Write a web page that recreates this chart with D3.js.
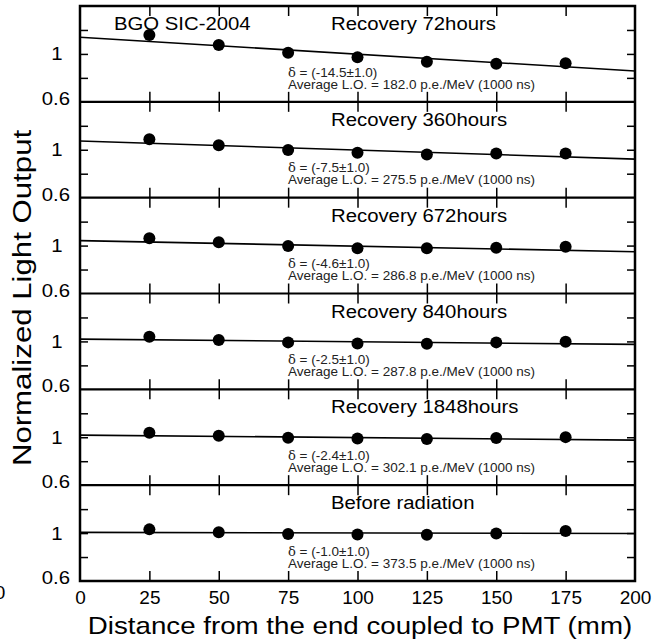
<!DOCTYPE html>
<html>
<head>
<meta charset="utf-8">
<script src="https://cdn.jsdelivr.net/npm/d3@7"></script>
<style>
body { margin: 0; background: #fff; }
text { font-family: "Liberation Sans", Arial, sans-serif; fill: #000; }
</style>
</head>
<body>
<div id="chart"></div>
<script>
// values
var distances = [25, 50, 75, 100, 125, 150, 175];
var panelLabels = ["Recovery 72hours", "Recovery 360hours", "Recovery 672hours",
                   "Recovery 840hours", "Recovery 1848hours", "Before radiation"];
var recovery72   = [1.158, 1.074, 1.010, 0.972, 0.935, 0.918, 0.922];
var recovery360  = [1.088, 1.037, 0.997, 0.975, 0.961, 0.969, 0.969];
var recovery672  = [1.061, 1.028, 0.997, 0.977, 0.977, 0.982, 0.991];
var recovery840  = [1.039, 1.011, 0.992, 0.983, 0.981, 0.992, 0.997];
var recovery1848 = [1.038, 1.013, 0.996, 0.990, 0.985, 0.993, 1.001];
var beforeRad    = [1.031, 1.006, 0.992, 0.989, 0.986, 0.997, 1.017];
var series = [recovery72, recovery360, recovery672, recovery840, recovery1848, beforeRad];

// fitted line, value at 0 mm and at 200 mm
var fitAt0   = [1.139, 1.073, 1.041, 1.019, 1.018, 1.006];
var fitAt200 = [0.857, 0.922, 0.949, 0.975, 0.976, 0.996];

var deltas = ["(-14.5\u00b11.0)", "(-7.5\u00b11.0)", "(-4.6\u00b11.0)",
              "(-2.5\u00b11.0)", "(-2.4\u00b11.0)", "(-1.0\u00b11.0)"];
var averageLO = ["182.0", "275.5", "286.8", "287.8", "302.1", "373.5"];

var xTicks = [0, 25, 50, 75, 100, 125, 150, 175, 200];
var yInnerTicks = [0.8, 1, 1.2];
var yLabels = [0.6, 1];

var w = 652, h = 643;
var mLeft = 80, mRight = 635, mTop = 6, mBottom = 581;
var panelH = (mBottom - mTop) / series.length;

var svg = d3.select("#chart").append("svg")
    .attr("width", w)
    .attr("height", h);

var x = d3.scaleLinear().domain([0, 200]).range([mLeft, mRight]);

// text stretched horizontally like the original
function stretched(g, str, tx, ty, sx, size, anchor) {
    return g.append("text")
        .attr("transform", "translate(" + tx + "," + ty + ") scale(" + sx + ",1)")
        .attr("text-anchor", anchor || "start")
        .style("font-size", size + "px")
        .text(str);
}

series.forEach(function(vals, i) {
    var y0 = mTop + i * panelH;
    var y = d3.scaleLinear().domain([0.6, 1.4]).range([y0 + panelH, y0]);
    var g = svg.append("g");

    // ticks
    g.append("g").attr("transform", "translate(0," + y(0.6) + ")")
        .call(d3.axisBottom(x).tickValues(distances).tickSize(-10).tickFormat(""));
    g.append("g").attr("transform", "translate(0," + y(1.4) + ")")
        .call(d3.axisTop(x).tickValues(distances).tickSize(-10).tickFormat(""));
    g.append("g").attr("transform", "translate(" + mLeft + ",0)")
        .call(d3.axisLeft(y).tickValues(yInnerTicks).tickSize(-8).tickFormat(""));
    g.append("g").attr("transform", "translate(" + mRight + ",0)")
        .call(d3.axisRight(y).tickValues(yInnerTicks).tickSize(-8).tickFormat(""));
    g.selectAll(".domain").remove();
    g.selectAll(".tick line").attr("stroke", "#000").attr("stroke-width", 1.5);

    // separator / bottom line of the panel
    g.append("line")
        .attr("x1", mLeft).attr("x2", mRight)
        .attr("y1", y(0.6)).attr("y2", y(0.6))
        .attr("stroke", "#000").attr("stroke-width", 2.2);

    // y labels
    yLabels.forEach(function(v) {
        if (v === 0.6) {
            stretched(g, "0.6", 70, y(v) + 3, 1.1, 18.5, "end");
        } else {
            stretched(g, String(v), 57, y(v) + 6.5, 1.1, 18.5, "middle");
        }
    });

    // fit line
    g.append("line")
        .attr("x1", x(0)).attr("y1", y(fitAt0[i]))
        .attr("x2", x(200)).attr("y2", y(fitAt200[i]))
        .attr("stroke", "#000").attr("stroke-width", 1.6);

    // points
    g.selectAll(".dot")
        .data(vals)
        .enter().append("circle")
        .attr("class", "dot")
        .attr("cx", function(d, j) { return x(distances[j]); })
        .attr("cy", function(d) { return y(d); })
        .attr("r", 6)
        .attr("fill", "#000");

    // titles
    stretched(g, panelLabels[i], 331, y0 + 24, 1.13, 18);
    if (i === 0) {
        stretched(g, "BGO SIC-2004", 114, y0 + 24, 1.13, 18);
    }

    // annotation
    var t1 = g.append("text")
        .attr("x", 288).attr("y", y0 + 70.5)
        .style("font-size", "13.5px")
        .style("fill", "#222");
    t1.append("tspan").style("font-family", "'DejaVu Serif', 'Liberation Serif', serif")
        .style("font-size", "13px").text("\u03b4");
    t1.append("tspan").text(" = " + deltas[i]);
    g.append("text")
        .attr("x", 288).attr("y", y0 + 82.5)
        .style("font-size", "13.5px")
        .style("fill", "#222")
        .text("Average L.O. = " + averageLO[i] + " p.e./MeV (1000 ns)");
});

// outer frame
svg.append("rect")
    .attr("x", mLeft).attr("y", mTop)
    .attr("width", mRight - mLeft).attr("height", mBottom - mTop)
    .attr("fill", "none").attr("stroke", "#000").attr("stroke-width", 2.5);

// x axis labels
var xAxis = svg.append("g").attr("transform", "translate(0," + mBottom + ")")
    .call(d3.axisBottom(x).tickValues(xTicks).tickSize(0).tickPadding(10)
        .tickFormat(d3.format("d")));
xAxis.select(".domain").remove();
xAxis.attr("font-size", null).attr("font-family", null);
xAxis.selectAll("text")
    .style("font-size", "19px")
    .attr("fill", "#000");

stretched(svg, "Distance from the end coupled to PMT (mm)", 360, 634, 1.155, 24, "middle");

svg.append("text")
    .attr("transform", "translate(31,298) rotate(-90) scale(1.2,1)")
    .attr("text-anchor", "middle")
    .style("font-size", "26px")
    .text("Normalized Light Output");

// clipped label of a neighbouring figure at the left edge
svg.append("text")
    .attr("x", 0).attr("y", 599)
    .attr("text-anchor", "middle")
    .style("font-size", "19px")
    .text("0");
</script>
</body>
</html>
